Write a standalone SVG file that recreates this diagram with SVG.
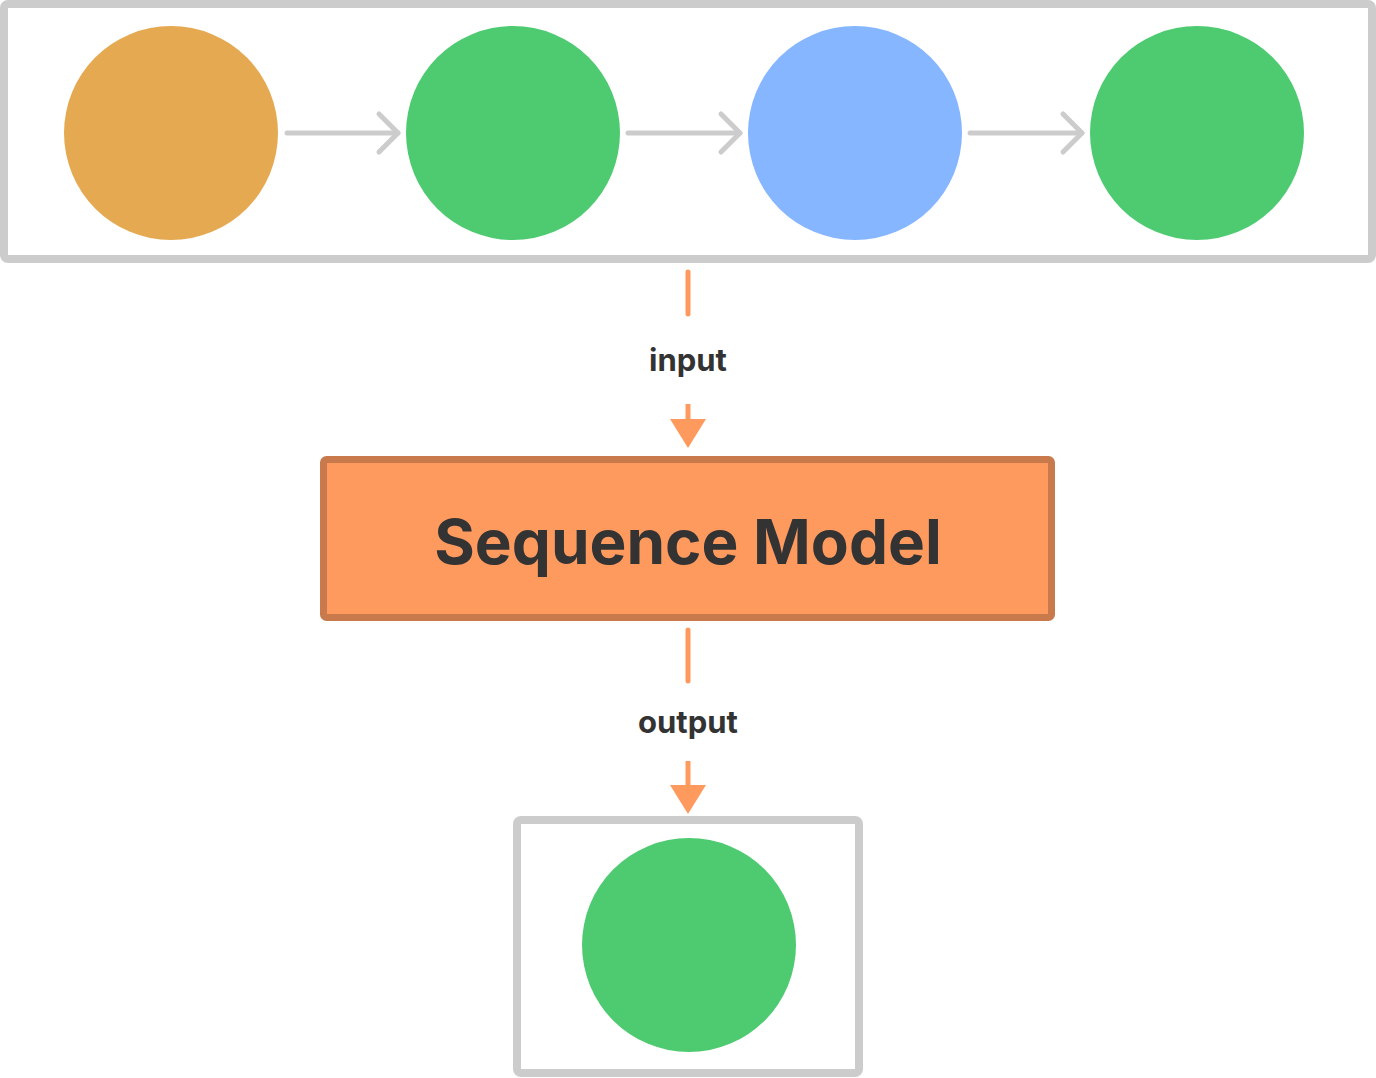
<svg xmlns="http://www.w3.org/2000/svg" width="1376" height="1078" viewBox="0 0 1376 1078">
<style>
.box{fill:#fff;stroke:#cccccc;stroke-width:8}
.seq{stroke:#cccccc;stroke-width:5;stroke-linecap:round;fill:none}
.flow{stroke:#ff9a5f;stroke-width:5;stroke-linecap:round;fill:none}
.lbl{font-family:Inter,"Liberation Sans",sans-serif;font-weight:700;fill:#333333;text-anchor:middle}
</style>
<defs>
<marker id="chev" markerUnits="userSpaceOnUse" markerWidth="30" markerHeight="50" viewBox="-25 -25 30 50" refX="0" refY="0" orient="auto">
<path d="M-19,-19 L0,0 L-19,19" fill="none" stroke="#cccccc" stroke-width="5" stroke-linecap="round" stroke-linejoin="round"/>
</marker>
<marker id="tri" markerUnits="userSpaceOnUse" markerWidth="40" markerHeight="40" viewBox="0 -20 30 40" refX="0" refY="0" orient="auto">
<path d="M0,-18 L29,0 L0,18 Z" fill="#ff9a5f"/>
</marker>
</defs>
<g id="input-sequence">
<rect class="box" x="4" y="4" width="1368" height="255" rx="4"/>
</g>
<g id="token1"><circle cx="171" cy="133" r="107" fill="#e5a951"/></g>
<g id="token2"><circle cx="513" cy="133" r="107" fill="#4ecb71"/></g>
<g id="token3"><circle cx="855" cy="133" r="107" fill="#85b6ff"/></g>
<g id="token4"><circle cx="1197" cy="133" r="107" fill="#4ecb71"/></g>
<g id="model">
<rect x="323.5" y="459.5" width="728" height="158" rx="3" fill="#ff9a5f" stroke="#c97a4c" stroke-width="7"/>
<text class="lbl" x="688" y="564" font-size="62">Sequence Model</text>
</g>
<g id="output-box">
<rect class="box" x="517" y="820" width="342" height="253" rx="4"/>
</g>
<g id="output-token"><circle cx="689" cy="945" r="107" fill="#4ecb71"/></g>
<g id="connectors">
<line class="seq" x1="287" y1="133" x2="398" y2="133" marker-end="url(#chev)"/>
<line class="seq" x1="628" y1="133" x2="740" y2="133" marker-end="url(#chev)"/>
<line class="seq" x1="970" y1="133" x2="1082" y2="133" marker-end="url(#chev)"/>
<line class="flow" x1="688" y1="272" x2="688" y2="314"/>
<text class="lbl" x="688" y="371" font-size="31">input</text>
<line x1="688" y1="404" x2="688" y2="419" stroke="#ff9a5f" stroke-width="5" marker-end="url(#tri)"/>
<line class="flow" x1="688" y1="630" x2="688" y2="681"/>
<text class="lbl" x="688" y="733" font-size="31">output</text>
<line x1="688" y1="761" x2="688" y2="785" stroke="#ff9a5f" stroke-width="5" marker-end="url(#tri)"/>
</g>
</svg>
